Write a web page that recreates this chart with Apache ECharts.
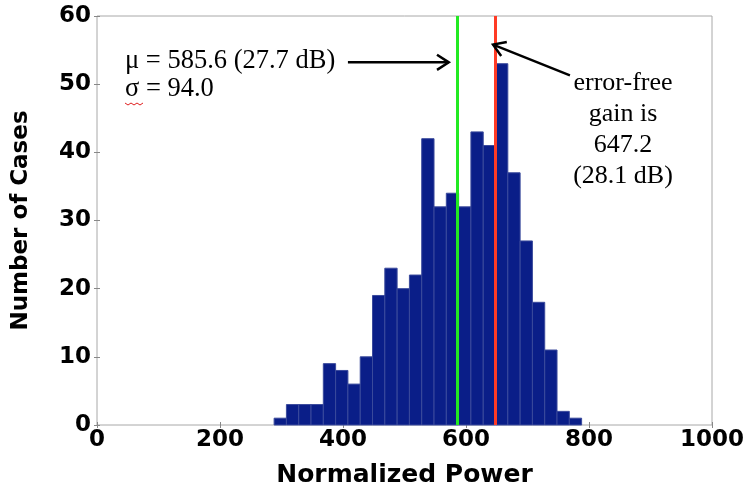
<!DOCTYPE html>
<html>
<head>
<meta charset="utf-8">
<script src="https://cdn.jsdelivr.net/npm/echarts@6/dist/echarts.min.js"></script>
<style>
html,body{margin:0;padding:0;background:#fff;}
#chart{width:746px;height:486px;}
</style>
</head>
<body>
<div id="chart"></div>
<script>
// Histogram bin edges (Normalized Power) and counts
var binLeft  = [288,308,328,348,368,388,408,428,448,468,488,508,528,548,568,588,608,628,648,668,688,708,728,748,768];
var binRight = [308,328,348,368,388,408,428,448,468,488,508,528,548,568,588,608,628,648,668,688,708,728,748,768,788];
var counts   = [1,3,3,3,9,8,6,10,19,23,20,22,42,32,34,32,43,41,53,37,27,18,11,2,1];
var meanValue = 585.6;
var errorFreeGain = 647.2;
var xTicks = [0,200,400,600,800,1000];
var yTicks = [0,10,20,30,40,50,60];
// annotation arrows in data coordinates: [from, to]
var meanArrow = [[408,53.2],[572,53.2]];
var gainArrow = [[769,51.3],[644,55.8]];

var chart = echarts.init(document.getElementById('chart'));
var histData = counts.map(function(c,i){return [binLeft[i], binRight[i], c];});

var sansBold = {fontFamily:'DejaVu Sans', fontWeight:'bold', color:'#000'};

var option = {
  animation:false,
  backgroundColor:'#fff',
  grid:{left:97,right:34,top:16,bottom:61,containLabel:false,outerBoundsMode:'none',show:true,borderColor:'#a8a8a8',borderWidth:1,backgroundColor:'transparent'},
  xAxis:[{
    type:'value',min:0,max:1000,interval:200,
    name:'Normalized Power',nameLocation:'middle',nameGap:38,
    nameTextStyle:Object.assign({fontSize:25},sansBold),
    axisLine:{show:false},
    axisTick:{show:true,inside:true,length:3,lineStyle:{color:'#888'}},
    axisLabel:Object.assign({fontSize:23,margin:4,formatter:function(v){return String(v);}},sansBold),
    splitLine:{show:false}
  },{
    type:'value',min:0,max:1000,interval:200,position:'top',
    axisLine:{show:false},axisLabel:{show:false},
    axisTick:{show:true,inside:true,length:3,lineStyle:{color:'#888'}},
    splitLine:{show:false}
  }],
  yAxis:[{
    type:'value',min:0,max:60,interval:10,
    name:'Number of Cases',nameLocation:'middle',nameGap:64,nameRotate:90,
    nameTextStyle:Object.assign({fontSize:23},sansBold),
    axisLine:{show:false},
    axisTick:{show:true,inside:true,length:3,lineStyle:{color:'#888'}},
    axisLabel:Object.assign({fontSize:23,margin:6},sansBold),
    splitLine:{show:false}
  },{
    type:'value',min:0,max:60,interval:10,position:'right',
    axisLine:{show:false},axisLabel:{show:false},
    axisTick:{show:true,inside:true,length:3,lineStyle:{color:'#888'}},
    splitLine:{show:false}
  }],
  series:[{
    type:'custom',
    data:histData,
    encode:{x:[0,1],y:2},
    renderItem:function(params,api){
      var p0 = api.coord([api.value(0), api.value(2)]);
      var p1 = api.coord([api.value(1), 0]);
      return {type:'rect',shape:{x:p0[0],y:p0[1],width:p1[0]-p0[0],height:p1[1]-p0[1]},
        style:{fill:'#0a1e88',stroke:'#3a4a9c',lineWidth:1}};
    }
  },{
    type:'line',data:[],
    markLine:{
      silent:true,symbol:'none',animation:false,
      label:{show:false},
      data:[
        {xAxis:meanValue,lineStyle:{color:'#22ea22',width:3,type:'solid'}},
        {xAxis:errorFreeGain,lineStyle:{color:'#ff3b25',width:3,type:'solid'}}
      ]
    }
  }]
};
chart.setOption(option);

function arrowGraphics(pair){
  var a = chart.convertToPixel({gridIndex:0}, pair[0]);
  var b = chart.convertToPixel({gridIndex:0}, pair[1]);
  var ang = Math.atan2(b[1]-a[1], b[0]-a[0]);
  var L = 14, spread = Math.PI/5.5;
  var h1 = [b[0]-L*Math.cos(ang-spread), b[1]-L*Math.sin(ang-spread)];
  var h2 = [b[0]-L*Math.cos(ang+spread), b[1]-L*Math.sin(ang+spread)];
  return [
    {type:'line',shape:{x1:a[0],y1:a[1],x2:b[0],y2:b[1]},style:{stroke:'#000',lineWidth:2.5},z:100},
    {type:'polyline',shape:{points:[h1,b,h2]},style:{stroke:'#000',lineWidth:2.5,fill:null},z:100}
  ];
}

var graphics = [
  {type:'text',left:125,top:48,style:{text:'μ = 585.6 (27.7 dB)',font:'26.5px "Liberation Serif"',fill:'#000'}},
  {type:'text',left:125,top:76,style:{text:'σ = 94.0',font:'26.5px "Liberation Serif"',fill:'#000'}},
  {type:'polyline',shape:{points:[[125,103],[128,105],[131,103],[134,105],[137,103],[140,105],[143,103]]},style:{stroke:'#e02020',lineWidth:1,fill:null}},
  {type:'text',x:623,y:68,style:{text:'error-free\ngain is\n647.2\n(28.1 dB)',font:'26px "Liberation Serif"',fill:'#000',align:'center',lineHeight:31}}
].concat(arrowGraphics(meanArrow)).concat(arrowGraphics(gainArrow));

chart.setOption({graphic:graphics});
</script>
</body>
</html>
